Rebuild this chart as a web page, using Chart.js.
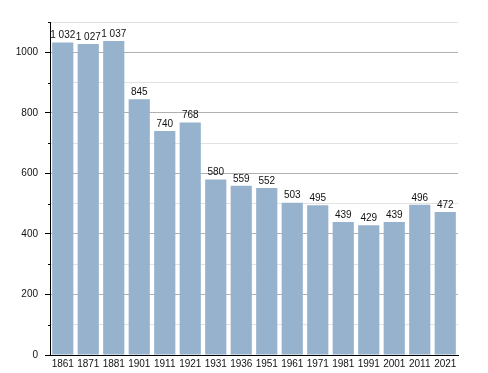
<!DOCTYPE html>
<html>
<head>
<meta charset="utf-8">
<script src="https://cdn.jsdelivr.net/npm/chart.js@4"></script>
<style>
  html, body { margin: 0; padding: 0; background: #fff; }
  #wrap { width: 488px; height: 373px; }
</style>
</head>
<body>
<div id="wrap"><canvas id="chart" width="488" height="373"></canvas></div>
<script>
const years = ["1861", "1871", "1881", "1901", "1911", "1921", "1931", "1936", "1951", "1961", "1971", "1981", "1991", "2001", "2011", "2021"];
const population = [1032, 1027, 1037, 845, 740, 768, 580, 559, 552, 503, 495, 439, 429, 439, 496, 472];

const FONT = "'Liberation Sans', Arial, sans-serif";

// thousands separated by a space, like the original
const fmt = (v) => v >= 1000 ? Math.floor(v / 1000) + " " + String(v % 1000).padStart(3, "0") : String(v);

const barLabels = {
  id: "barLabels",
  afterDatasetsDraw(chart) {
    const ctx = chart.ctx;
    const meta = chart.getDatasetMeta(0);
    ctx.save();
    ctx.font = "10px " + FONT;
    ctx.fillStyle = "#111";
    ctx.textAlign = "center";
    ctx.textBaseline = "bottom";
    meta.data.forEach((bar, i) => {
      ctx.fillText(fmt(population[i]), bar.x, bar.y - 2);
    });
    ctx.restore();
  }
};

// short ticks for the minor (odd hundred) values
const minorTicks = {
  id: "minorTicks",
  afterDraw(chart) {
    const y = chart.scales.y;
    const ctx = chart.ctx;
    ctx.save();
    ctx.strokeStyle = "#000";
    ctx.lineWidth = 1;
    y.ticks.forEach((t) => {
      if (t.value % 200 !== 0) {
        const py = Math.round(y.getPixelForValue(t.value)) + 0.5;
        ctx.beginPath();
        ctx.moveTo(y.right - 2, py);
        ctx.lineTo(y.right, py);
        ctx.stroke();
      }
    });
    ctx.restore();
  }
};

new Chart(document.getElementById("chart"), {
  type: "bar",
  data: {
    labels: years,
    datasets: [{
      data: population,
      backgroundColor: "#97b2cc",
      borderWidth: 0,
      barPercentage: 0.83,
      categoryPercentage: 1
    }]
  },
  options: {
    responsive: false,
    animation: false,
    layout: { padding: { top: 22, right: 30, left: 0, bottom: 0 } },
    plugins: { legend: { display: false }, tooltip: { enabled: false } },
    scales: {
      x: {
        grid: { display: false, drawTicks: false },
        border: { display: true, color: "#000", width: 1 },
        ticks: { font: { family: FONT, size: 10 }, color: "#111", padding: 3, maxRotation: 0, autoSkip: false },
        afterFit(axis) { axis.height = 18; }
      },
      y: {
        min: 0,
        max: 1100,
        border: { display: true, color: "#000", width: 1 },
        grid: {
          color: (c) => c.tick && c.tick.value % 200 === 0 ? "#b0b0b0" : "#e2e2e2",
          tickColor: (c) => c.tick && c.tick.value % 200 === 0 ? "#000" : "rgba(0,0,0,0)",
          tickLength: 5
        },
        ticks: {
          stepSize: 100,
          font: { family: FONT, size: 10 },
          color: "#111",
          padding: 7,
          callback: (v) => v % 200 === 0 ? String(v) : ""
        },
        afterFit(axis) { axis.width = 50; }
      }
    }
  },
  plugins: [barLabels, minorTicks]
});
</script>
</body>
</html>
